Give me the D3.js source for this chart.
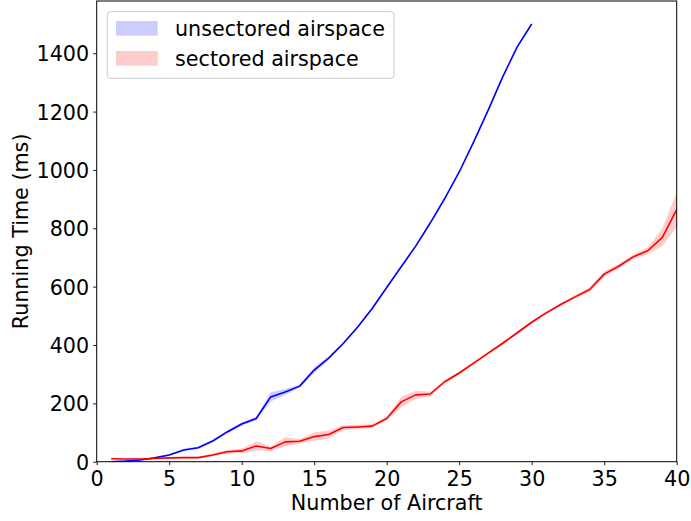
<!DOCTYPE html>
<html>
<head>
    <meta charset="UTF-8">
    <title>Running Time vs Number of Aircraft</title>
    <script src="https://d3js.org/d3.v7.min.js"></script>
    <style>
        body { margin: 0; background: #fff; }
        svg { display: block; font-family: "DejaVu Sans", sans-serif; }
    </style>
</head>
<body>
    <div id="chart"></div>

    <script type="text/javascript">
        // values
        const aircraft = [1, 2, 3, 4, 5, 6, 7, 8, 9, 10,
                          11, 12, 13, 14, 15, 16, 17, 18, 19, 20,
                          21, 22, 23, 24, 25, 26, 27, 28, 29, 30,
                          31, 32, 33, 34, 35, 36, 37, 38, 39, 40];

        const unsectoredMean = [0, 2, 6, 13, 23, 40, 48, 71, 102, 129,
                                148, 222, 239, 259, 314, 355, 405, 462, 525, 597,
                                668, 739, 818, 902, 993, 1096, 1205, 1319, 1422, 1500];
        const unsectoredErr = [2, 2, 2, 3, 3, 4, 4, 4, 5, 6,
                               6, 16, 10, 5, 10, 6, 4, 4, 4, 4,
                               4, 4, 4, 4, 4, 4, 4, 4, 4, 3];

        const sectoredMean = [10, 9, 9, 11, 13, 14, 14, 23, 34, 37,
                              54, 45, 68, 70, 86, 93, 117, 119, 122, 148,
                              205, 229, 232, 274, 304, 338, 372, 406, 442, 478,
                              510, 539, 565, 590, 643, 670, 702, 723, 768, 864];
        const sectoredErr = [2, 2, 2, 2, 2, 3, 3, 4, 6, 8,
                             16, 8, 16, 8, 14, 14, 8, 8, 6, 6,
                             18, 14, 8, 5, 5, 5, 5, 5, 5, 5,
                             5, 5, 6, 8, 10, 8, 8, 12, 30, 60];

        const xTicks = [0, 5, 10, 15, 20, 25, 30, 35, 40];
        const yTicks = [0, 200, 400, 600, 800, 1000, 1200, 1400];

        const seriesNames = ["unsectored airspace", "sectored airspace"];

        const W = 691, H = 521;
        const plot = { left: 96.7, right: 676.7, top: 1, bottom: 461.7 };
        const fontSize = 20.7;

        const svg = d3.select("#chart").append("svg")
            .attr("width", W)
            .attr("height", H)
            .attr("font-size", fontSize);

        const x = d3.scaleLinear().domain([0, 40]).range([plot.left, plot.right]);
        const y = d3.scaleLinear().domain([0, 1579]).range([plot.bottom, plot.top]);

        function makeRows(mean, err) {
            return mean.map((m, i) => ({ n: aircraft[i], m: m, lo: m - err[i], hi: m + err[i] }));
        }

        const series = [
            { name: seriesNames[0], color: "#0000ff", band: "rgba(0,0,255,0.2)", rows: makeRows(unsectoredMean, unsectoredErr) },
            { name: seriesNames[1], color: "#ff0000", band: "rgba(255,0,0,0.2)", rows: makeRows(sectoredMean, sectoredErr) }
        ];

        const area = d3.area()
            .x(d => x(d.n))
            .y0(d => y(d.lo))
            .y1(d => y(d.hi));

        const line = d3.line()
            .x(d => x(d.n))
            .y(d => y(d.m));

        svg.append("clipPath").attr("id", "clip")
            .append("rect")
            .attr("x", plot.left).attr("y", plot.top)
            .attr("width", plot.right - plot.left)
            .attr("height", plot.bottom - plot.top);

        const marks = svg.append("g").attr("clip-path", "url(#clip)");

        series.forEach(s => {
            marks.append("path")
                .datum(s.rows)
                .attr("d", line)
                .attr("fill", "none")
                .attr("stroke", s.color)
                .attr("stroke-width", 1.6)
                .attr("stroke-linejoin", "round");
            marks.append("path")
                .datum(s.rows)
                .attr("d", area)
                .attr("fill", s.band)
                .attr("stroke", "none");
        });

        // axes
        const xAxis = d3.axisBottom(x)
            .tickValues(xTicks)
            .tickFormat(d3.format("d"))
            .tickSize(3.5)
            .tickSizeOuter(0)
            .tickPadding(6);
        const gx = svg.append("g")
            .attr("transform", `translate(0,${plot.bottom})`)
            .call(xAxis);

        const yAxis = d3.axisLeft(y)
            .tickValues(yTicks)
            .tickFormat(d3.format("d"))
            .tickSize(3.5)
            .tickSizeOuter(0)
            .tickPadding(4);
        const gy = svg.append("g")
            .attr("transform", `translate(${plot.left},0)`)
            .call(yAxis);

        [gx, gy].forEach(g => {
            g.attr("font-size", fontSize).attr("font-family", "DejaVu Sans, sans-serif");
            g.select(".domain").remove();
            g.selectAll(".tick line").attr("stroke", "#000").attr("stroke-width", 0.9);
            g.selectAll(".tick text").attr("fill", "#000");
        });
        gy.selectAll(".tick text").attr("dy", "0.36em");

        // frame
        svg.append("rect")
            .attr("x", plot.left)
            .attr("y", plot.top)
            .attr("width", plot.right - plot.left)
            .attr("height", plot.bottom - plot.top)
            .attr("fill", "none")
            .attr("stroke", "#000")
            .attr("stroke-width", 1);

        // axis labels
        svg.append("text")
            .attr("x", (plot.left + plot.right) / 2)
            .attr("y", 510)
            .attr("text-anchor", "middle")
            .text("Number of Aircraft");

        svg.append("text")
            .attr("transform", `translate(28.3,${(plot.top + plot.bottom) / 2}) rotate(-90)`)
            .attr("text-anchor", "middle")
            .text("Running Time (ms)");

        // legend
        const legend = svg.append("g");
        legend.append("rect")
            .attr("x", 107.3)
            .attr("y", 11.7)
            .attr("width", 286.7)
            .attr("height", 66.6)
            .attr("rx", 3)
            .attr("fill", "rgba(255,255,255,0.8)")
            .attr("stroke", "#cccccc")
            .attr("stroke-width", 1);

        series.forEach((s, i) => {
            const row = legend.append("g").attr("transform", `translate(0,${i * 30})`);
            row.append("rect")
                .attr("x", 116)
                .attr("y", 21)
                .attr("width", 41.7)
                .attr("height", 14.7)
                .attr("fill", s.band);
            row.append("text")
                .attr("x", 175)
                .attr("y", 35.5)
                .text(s.name);
        });
    </script>
</body>
</html>
